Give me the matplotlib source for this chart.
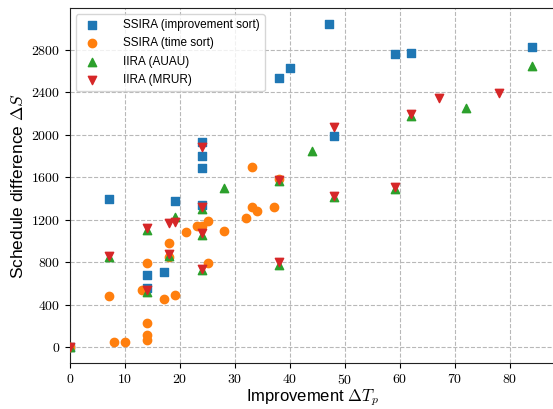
import matplotlib
matplotlib.use("Agg")
import matplotlib.pyplot as plt

plt.rcParams['font.family'] = ['Liberation Sans', 'DejaVu Sans']
plt.rcParams['mathtext.fontset'] = 'cm'
plt.rcParams['axes.formatter.use_mathtext'] = True

# SSIRA (improvement sort)
imp_x = [0, 7, 14, 14, 17, 19, 24, 24, 24, 24, 38, 40, 47, 48, 59, 62, 84]
imp_y = [0, 1398, 683, 557, 705, 1378, 1935, 1804, 1682, 1334, 2531, 2631, 3038, 1989, 2762, 2765, 2828]

# SSIRA (time sort)
time_x = [0, 7, 8, 10, 13, 14, 14, 14, 14, 17, 18, 18, 19, 21, 23, 24, 25, 25, 28, 32, 33, 33, 34, 37, 38]
time_y = [0, 486, 50, 50, 536, 229, 119, 72, 793, 455, 977, 846, 489, 1084, 1143, 1143, 1184, 793, 1096, 1212, 1694, 1318, 1281, 1315, 1585]

# IIRA (AUAU)
auau_x = [0, 7, 14, 14, 18, 19, 24, 24, 24, 28, 38, 38, 44, 48, 59, 62, 72, 84]
auau_y = [0, 846, 1106, 517, 861, 1225, 1300, 1059, 723, 1503, 1560, 777, 1842, 1413, 1491, 2177, 2255, 2650]

# IIRA (MRUR)
mrur_x = [0, 7, 14, 14, 18, 18, 19, 24, 24, 24, 24, 38, 38, 48, 48, 59, 62, 67, 78]
mrur_y = [0, 861, 1121, 536, 874, 1168, 1174, 1889, 1322, 1074, 739, 1575, 799, 2077, 1425, 1510, 2196, 2349, 2390]

x_ticks = [0, 10, 20, 30, 40, 50, 60, 70, 80]
y_ticks = [0, 400, 800, 1200, 1600, 2000, 2400, 2800]

fig = plt.figure(figsize=(5.53, 4.09), dpi=100)
ax = fig.add_axes([0.1266, 0.1117, 0.8772, 0.868])

ax.scatter(imp_x, imp_y, marker='s', s=36, color='#1f77b4', label='SSIRA (improvement sort)', zorder=3)
ax.scatter(time_x, time_y, marker='o', s=36, color='#ff7f0e', label='SSIRA (time sort)', zorder=3)
ax.scatter(auau_x, auau_y, marker='^', s=36, color='#2ca02c', label='IIRA (AUAU)', zorder=3)
ax.scatter(mrur_x, mrur_y, marker='v', s=36, color='#d62728', label='IIRA (MRUR)', zorder=3)

ax.set_xlim(0, 88.2)
ax.margins(y=0.05)
ax.set_xticks(x_ticks)
ax.set_yticks(y_ticks)
ax.tick_params(labelsize=10, labelfontfamily='cmr10')
ax.grid(True, linestyle='--', color='0.72', linewidth=0.8, zorder=0)
ax.set_axisbelow(True)
for sp in ax.spines.values():
    sp.set_color('#222222')
ax.spines['right'].set_visible(False)

ax.set_xlabel(r'Improvement $\Delta T_p$', fontsize=12, labelpad=0)
ax.set_ylabel(r'Schedule difference $\Delta S$', fontsize=12.5, labelpad=4)

ax.legend(loc='upper left', fontsize=8.5, framealpha=0.8, edgecolor='0.8',
          handletextpad=1.6, labelspacing=0.55)

fig.savefig('out.png', dpi=100)
